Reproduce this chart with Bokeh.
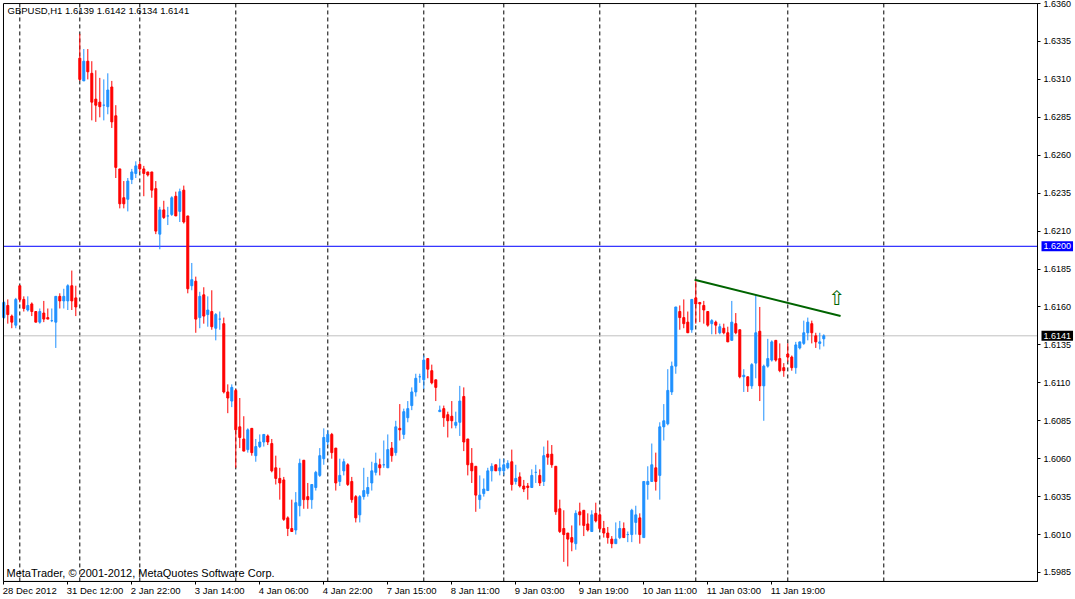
from bokeh.plotting import figure
from bokeh.models import (ColumnDataSource, Range1d, FixedTicker, PrintfTickFormatter,
                          Label, LinearAxis)
from bokeh.core.properties import value
from bokeh.embed import file_html
from bokeh.resources import INLINE

symbol = "GBPUSD"
timeframe = "H1"

opens = [1.6153,1.6161,1.6154,1.6148,1.6174,1.6165,1.6158,1.6162,1.6157,1.6150,
         1.6156,1.6153,1.6151,1.6150,1.6167,1.6164,1.6164,1.6174,1.6166,1.6324,
         1.6309,1.6322,1.6314,1.6297,1.6295,1.6293,1.6292,1.6305,1.6286,1.6251,
         1.6232,1.6231,1.6244,1.6248,1.6254,1.6251,1.6249,1.6249,1.6238,1.6208,
         1.6224,1.6220,1.6221,1.6233,1.6223,1.6237,1.6220,1.6174,1.6177,1.6153,
         1.6168,1.6155,1.6157,1.6146,1.6152,1.6149,1.6104,1.6098,1.6105,1.6081,
         1.6073,1.6066,1.6080,1.6062,1.6068,1.6071,1.6075,1.6070,1.6054,1.6047,
         1.6046,1.6021,1.6014,1.6013,1.6029,1.6059,1.6035,1.6033,1.6041,1.6049,
         1.6060,1.6071,1.6076,1.6067,1.6045,1.6052,1.6056,1.6045,1.6035,1.6023,
         1.6035,1.6037,1.6044,1.6051,1.6056,1.6056,1.6054,1.6067,1.6064,1.6080,
         1.6076,1.6087,1.6095,1.6104,1.6114,1.6112,1.6126,1.6118,1.6112,1.6091,
         1.6093,1.6089,1.6088,1.6082,1.6084,1.6101,1.6073,1.6057,1.6055,1.6033,
         1.6037,1.6039,1.6052,1.6056,1.6052,1.6052,1.6054,1.6058,1.6045,1.6048,
         1.6042,1.6042,1.6041,1.6051,1.6049,1.6045,1.6063,1.6063,1.6055,1.6027,
         1.6014,1.6011,1.6008,1.6004,1.6025,1.6026,1.6017,1.6012,1.6024,1.6023,
         1.6014,1.6011,1.6007,1.6004,1.6008,1.6014,1.6010,1.6010,1.6018,1.6021,
         1.6008,1.6043,1.6045,1.6054,1.6049,1.6081,1.6083,1.6104,1.6121,1.6157,
         1.6153,1.6150,1.6145,1.6166,1.6163,1.6161,1.6157,1.6149,1.6150,1.6143,
         1.6146,1.6143,1.6138,1.6149,1.6145,1.6114,1.6114,1.6108,1.6123,1.6144,
         1.6108,1.6121,1.6125,1.6138,1.6126,1.6120,1.6129,1.6127,1.6120,1.6133,
         1.6136,1.6143,1.6149,1.6141,1.6136,1.6139]
highs = [1.6164,1.6165,1.6155,1.6166,1.6174,1.6167,1.6167,1.6163,1.6157,1.6159,
         1.6164,1.6159,1.6159,1.6167,1.6169,1.6172,1.6175,1.6184,1.6174,1.6340,
         1.6330,1.6330,1.6322,1.6316,1.6311,1.6310,1.6314,1.6309,1.6293,1.6251,
         1.6243,1.6245,1.6251,1.6256,1.6256,1.6253,1.6249,1.6249,1.6243,1.6226,
         1.6230,1.6226,1.6233,1.6236,1.6238,1.6240,1.6220,1.6189,1.6180,1.6170,
         1.6173,1.6167,1.6171,1.6156,1.6157,1.6153,1.6109,1.6109,1.6106,1.6100,
         1.6088,1.6080,1.6080,1.6073,1.6076,1.6076,1.6076,1.6073,1.6062,1.6054,
         1.6048,1.6022,1.6033,1.6038,1.6060,1.6059,1.6044,1.6043,1.6052,1.6067,
         1.6080,1.6079,1.6077,1.6067,1.6060,1.6060,1.6057,1.6048,1.6036,1.6036,
         1.6054,1.6048,1.6058,1.6064,1.6060,1.6072,1.6076,1.6071,1.6085,1.6096,
         1.6093,1.6098,1.6107,1.6116,1.6116,1.6128,1.6126,1.6122,1.6112,1.6095,
         1.6095,1.6091,1.6098,1.6091,1.6108,1.6107,1.6073,1.6067,1.6055,1.6049,
         1.6047,1.6054,1.6057,1.6056,1.6060,1.6060,1.6059,1.6066,1.6056,1.6051,
         1.6046,1.6044,1.6053,1.6056,1.6053,1.6068,1.6072,1.6069,1.6055,1.6033,
         1.6026,1.6011,1.6016,1.6026,1.6031,1.6026,1.6024,1.6026,1.6031,1.6026,
         1.6019,1.6015,1.6009,1.6018,1.6019,1.6018,1.6012,1.6027,1.6029,1.6024,
         1.6045,1.6055,1.6070,1.6064,1.6084,1.6096,1.6119,1.6124,1.6160,1.6161,
         1.6165,1.6157,1.6165,1.6177,1.6163,1.6164,1.6157,1.6152,1.6151,1.6149,
         1.6149,1.6147,1.6164,1.6156,1.6145,1.6119,1.6114,1.6123,1.6168,1.6160,
         1.6122,1.6139,1.6138,1.6138,1.6136,1.6123,1.6136,1.6128,1.6137,1.6137,
         1.6151,1.6153,1.6151,1.6143,1.6143,1.6142]
lows = [1.6152,1.6149,1.6146,1.6146,1.6163,1.6157,1.6157,1.6154,1.6150,1.6149,
        1.6150,1.6152,1.6150,1.6133,1.6159,1.6159,1.6158,1.6158,1.6154,1.6309,
        1.6309,1.6310,1.6283,1.6282,1.6285,1.6283,1.6287,1.6278,1.6245,1.6225,
        1.6225,1.6223,1.6241,1.6245,1.6249,1.6233,1.6246,1.6232,1.6208,1.6198,
        1.6218,1.6214,1.6220,1.6220,1.6216,1.6215,1.6169,1.6171,1.6143,1.6146,
        1.6149,1.6147,1.6145,1.6138,1.6145,1.6103,1.6090,1.6094,1.6054,1.6067,
        1.6065,1.6064,1.6062,1.6058,1.6067,1.6068,1.6069,1.6051,1.6043,1.6033,
        1.6019,1.6009,1.6012,1.6010,1.6022,1.6027,1.6027,1.6027,1.6039,1.6048,
        1.6056,1.6069,1.6060,1.6039,1.6042,1.6049,1.6042,1.6031,1.6018,1.6018,
        1.6033,1.6035,1.6039,1.6049,1.6049,1.6054,1.6054,1.6058,1.6062,1.6072,
        1.6073,1.6084,1.6092,1.6101,1.6110,1.6106,1.6113,1.6109,1.6098,1.6091,
        1.6081,1.6074,1.6080,1.6080,1.6075,1.6065,1.6049,1.6044,1.6025,1.6027,
        1.6035,1.6039,1.6045,1.6052,1.6049,1.6049,1.6053,1.6039,1.6043,1.6041,
        1.6038,1.6033,1.6041,1.6044,1.6042,1.6042,1.6056,1.6054,1.6023,1.6011,
        1.5992,1.5989,1.5999,1.6000,1.6016,1.6009,1.6012,1.6012,1.6018,1.6013,
        1.6008,1.6004,1.6001,1.6004,1.6007,1.6008,1.6005,1.6005,1.6010,1.6004,
        1.6008,1.6033,1.6045,1.6039,1.6033,1.6072,1.6082,1.6102,1.6116,1.6145,
        1.6146,1.6143,1.6143,1.6149,1.6150,1.6149,1.6147,1.6142,1.6142,1.6142,
        1.6142,1.6137,1.6138,1.6142,1.6113,1.6104,1.6104,1.6106,1.6113,1.6098,
        1.6085,1.6120,1.6124,1.6124,1.6117,1.6114,1.6124,1.6118,1.6116,1.6132,
        1.6135,1.6138,1.6136,1.6133,1.6132,1.6134]
closes = [1.6163,1.6155,1.6150,1.6165,1.6165,1.6159,1.6161,1.6157,1.6150,1.6157,
          1.6152,1.6152,1.6151,1.6167,1.6164,1.6167,1.6174,1.6164,1.6160,1.6310,
          1.6322,1.6315,1.6295,1.6293,1.6292,1.6293,1.6303,1.6282,1.6252,1.6228,
          1.6228,1.6243,1.6249,1.6253,1.6251,1.6248,1.6247,1.6237,1.6210,1.6224,
          1.6219,1.6220,1.6232,1.6220,1.6236,1.6216,1.6172,1.6178,1.6152,1.6167,
          1.6154,1.6158,1.6147,1.6155,1.6152,1.6104,1.6100,1.6107,1.6079,1.6074,
          1.6065,1.6079,1.6064,1.6068,1.6071,1.6076,1.6071,1.6052,1.6047,1.6044,
          1.6020,1.6014,1.6012,1.6031,1.6057,1.6033,1.6033,1.6043,1.6051,1.6062,
          1.6074,1.6076,1.6064,1.6044,1.6049,1.6058,1.6043,1.6033,1.6021,1.6035,
          1.6039,1.6041,1.6052,1.6057,1.6054,1.6056,1.6066,1.6062,1.6081,1.6079,
          1.6091,1.6093,1.6104,1.6113,1.6114,1.6125,1.6119,1.6110,1.6107,1.6092,
          1.6087,1.6085,1.6085,1.6084,1.6098,1.6071,1.6056,1.6052,1.6036,1.6036,
          1.6040,1.6052,1.6055,1.6052,1.6054,1.6056,1.6057,1.6043,1.6047,1.6042,
          1.6040,1.6041,1.6049,1.6051,1.6044,1.6062,1.6061,1.6056,1.6025,1.6012,
          1.6010,1.6007,1.6005,1.6024,1.6023,1.6016,1.6013,1.6023,1.6019,1.6014,
          1.6011,1.6008,1.6004,1.6007,1.6014,1.6008,1.6010,1.6026,1.6023,1.6010,
          1.6045,1.6045,1.6056,1.6045,1.6081,1.6085,1.6105,1.6121,1.6160,1.6153,
          1.6149,1.6143,1.6165,1.6162,1.6162,1.6158,1.6148,1.6151,1.6148,1.6147,
          1.6143,1.6137,1.6150,1.6143,1.6114,1.6115,1.6108,1.6122,1.6143,1.6108,
          1.6121,1.6126,1.6137,1.6125,1.6118,1.6118,1.6127,1.6120,1.6135,1.6137,
          1.6143,1.6150,1.6143,1.6137,1.6137,1.6141]

tick_bars = [0, 16, 32, 48, 64, 80, 96, 112, 128, 144, 160, 176, 192]
tick_labels = ["28 Dec 2012", "31 Dec 12:00", "2 Jan 22:00", "3 Jan 14:00", "4 Jan 06:00",
               "4 Jan 22:00", "7 Jan 15:00", "8 Jan 11:00", "9 Jan 03:00", "9 Jan 19:00",
               "10 Jan 11:00", "11 Jan 03:00", "11 Jan 19:00"]
separator_bars = [4, 19, 34, 58, 81, 105, 125, 149, 173, 196, 220]
price_ticks = [1.5985, 1.6010, 1.6035, 1.6060, 1.6085, 1.6110, 1.6135, 1.6160,
               1.6185, 1.6210, 1.6235, 1.6260, 1.6285, 1.6310, 1.6335, 1.6360]
level_price = 1.6200
trend_bars = [172.7, 209.2]
trend_prices = [1.6178, 1.6154]
arrow_bar = 208.2
arrow_price = 1.6166
copyright_text = "MetaTrader, \u00a9 2001-2012, MetaQuotes Software Corp."

# chart window (the bordered area) and the whole canvas, in bars / price
FRAME_L, FRAME_R = -0.075, 258.43
FRAME_BOTTOM, FRAME_TOP = 1.59791, 1.6360
VIEW_X = (-0.825, 267.93)
VIEW_Y = (1.59672, 1.63620)

BULL = "#1E90FF"
BEAR = "#FF0000"
FONT = "Liberation Sans"

n = len(opens)
idx = list(range(n))
colors = [BULL if c >= o else BEAR for o, c in zip(opens, closes)]
src = ColumnDataSource(dict(
    x=idx, open=opens, high=highs, low=lows, close=closes,
    top=[max(o, c) for o, c in zip(opens, closes)],
    bottom=[min(o, c) for o, c in zip(opens, closes)],
    color=colors,
))

p = figure(width=1075, height=599, output_backend="svg", toolbar_location=None,
           x_range=Range1d(*VIEW_X), y_range=Range1d(*VIEW_Y),
           x_axis_location=None, y_axis_location=None,
           min_border=0)
p.background_fill_color = "white"
p.border_fill_color = "white"
p.outline_line_color = None
p.xgrid.visible = False
p.ygrid.visible = False

# period separators (dashed) inside the chart window
k = len(separator_bars)
p.segment(x0=separator_bars, x1=separator_bars, y0=[FRAME_BOTTOM] * k, y1=[FRAME_TOP] * k,
          line_color="black", line_width=1, line_dash="4 3")
# horizontal level and bid line
p.segment(x0=[FRAME_L], x1=[FRAME_R], y0=[level_price], y1=[level_price],
          line_color="#0000FF", line_width=1)
p.segment(x0=[FRAME_L], x1=[FRAME_R], y0=[closes[-1]], y1=[closes[-1]],
          line_color="#C0C0C0", line_width=1)

# candles
p.segment(x0="x", y0="low", x1="x", y1="high", source=src, line_color="color", line_width=1)
p.vbar(x="x", top="top", bottom="bottom", width=0.5, source=src,
       fill_color="color", line_color="color", line_width=1)

# trend line and arrow
p.line(trend_bars, trend_prices, line_color="#006400", line_width=2)
p.text(x=[arrow_bar], y=[arrow_price], text=["\u21e7"], text_color="#006400",
       text_font=value("DejaVu Sans"), text_font_size="20px",
       text_align="center", text_baseline="middle")

# chart window border (left and top; right and bottom are the axes)
p.quad(left=[FRAME_L], right=[FRAME_R], bottom=[FRAME_BOTTOM], top=[FRAME_TOP],
       fill_color=None, line_color="black", line_width=1)

# price scale at the right edge of the chart window
ya = LinearAxis(fixed_location=FRAME_R, bounds=(FRAME_BOTTOM, FRAME_TOP))
ya.ticker = FixedTicker(ticks=price_ticks)
ya.formatter = PrintfTickFormatter(format="%.4f")
ya.major_label_text_font = FONT
ya.major_label_text_font_size = "9px"
ya.major_label_text_color = "black"
ya.major_label_standoff = 3
ya.major_tick_out = 3
ya.major_tick_in = 0
ya.minor_tick_line_color = None
ya.axis_line_color = "black"
ya.major_tick_line_color = "black"
p.add_layout(ya, "right")

# time scale at the bottom edge of the chart window
xa = LinearAxis(fixed_location=FRAME_BOTTOM, bounds=(FRAME_L, FRAME_R))
xa.ticker = FixedTicker(ticks=tick_bars)
xa.major_label_overrides = {b: "" for b in tick_bars}
xa.major_label_text_font_size = "1px"
xa.major_label_standoff = 0
xa.major_tick_out = 3
xa.major_tick_in = 0
xa.minor_tick_line_color = None
xa.axis_line_color = "black"
xa.major_tick_line_color = "black"
p.add_layout(xa, "below")

# time labels start at their tick, as on the MetaTrader scale
for b, lab in zip(tick_bars, tick_labels):
    p.add_layout(Label(x=b, y=FRAME_BOTTOM, x_offset=-1, y_offset=-4, text=lab,
                       text_color="black", text_font=FONT, text_font_size="9.5px",
                       text_align="left", text_baseline="top"))

# price tags on the right scale
p.add_layout(Label(x=FRAME_R, y=level_price, x_offset=4, text=f"{level_price:.4f}",
                   text_color="white", text_font=FONT, text_font_size="9px",
                   text_baseline="middle", background_fill_color="#0000FF",
                   padding=2))
p.add_layout(Label(x=FRAME_R, y=closes[-1], x_offset=4, text=f"{closes[-1]:.4f}",
                   text_color="white", text_font=FONT, text_font_size="9px",
                   text_baseline="middle", background_fill_color="black",
                   padding=2))

# header and copyright
header = f"{symbol},{timeframe}  {opens[-1]:.4f} {highs[-1]:.4f} {lows[-1]:.4f} {closes[-1]:.4f}"
p.add_layout(Label(x=FRAME_L, y=FRAME_TOP, x_offset=4, y_offset=-7, text=header,
                   text_color="black", text_font=FONT, text_font_size="9.5px",
                   text_baseline="middle"))
p.add_layout(Label(x=FRAME_L, y=FRAME_BOTTOM, x_offset=3, y_offset=8, text=copyright_text,
                   text_color="black", text_font=FONT, text_font_size="11px",
                   text_baseline="middle"))

open("out.html", "w").write(file_html(p, INLINE))
